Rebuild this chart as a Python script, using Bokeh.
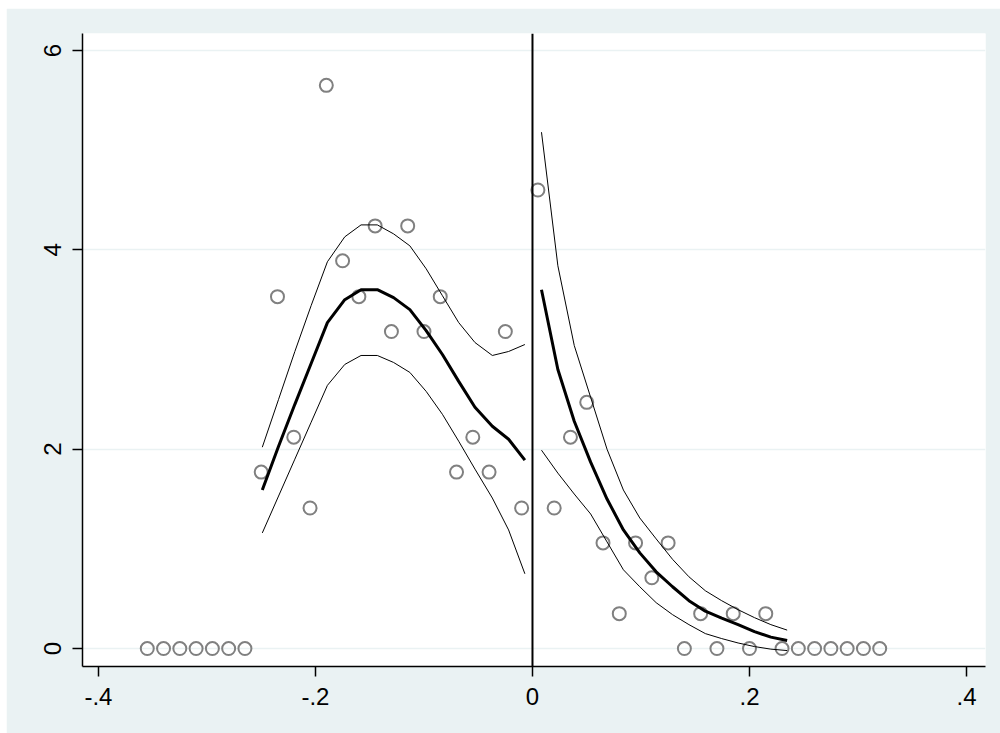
from bokeh.plotting import figure
from bokeh.models import Span, FixedTicker
from bokeh.embed import file_html
from bokeh.resources import INLINE

# ---- data ----
bin_x = [-0.355, -0.34, -0.325, -0.31, -0.295, -0.28, -0.265, -0.25, -0.235, -0.22,
         -0.205, -0.19, -0.175, -0.16, -0.145, -0.13, -0.115, -0.1, -0.085, -0.07,
         -0.055, -0.04, -0.025, -0.01,
         0.005, 0.02, 0.035, 0.05, 0.065, 0.08, 0.095, 0.11, 0.125, 0.14,
         0.155, 0.17, 0.185, 0.2, 0.215, 0.23, 0.245, 0.26, 0.275, 0.29, 0.305, 0.32]
bin_y = [0, 0, 0, 0, 0, 0, 0, 1.77, 3.53, 2.12,
         1.41, 5.65, 3.89, 3.53, 4.24, 3.18, 4.24, 3.18, 3.53, 1.77,
         2.12, 1.77, 3.18, 1.41,
         4.60, 1.41, 2.12, 2.47, 1.06, 0.35, 1.06, 0.71, 1.06, 0.0,
         0.35, 0.0, 0.35, 0.0, 0.35, 0.0, 0.0, 0.0, 0.0, 0.0, 0.0, 0.0]

left_x = [-0.249, -0.234, -0.219, -0.204, -0.189, -0.173, -0.158, -0.143, -0.128,
          -0.113, -0.098, -0.083, -0.068, -0.053, -0.037, -0.022, -0.007]
left_fit = [1.59, 2.03, 2.45, 2.86, 3.27, 3.50, 3.60, 3.60, 3.52,
            3.40, 3.19, 2.95, 2.68, 2.42, 2.23, 2.10, 1.89]
left_hi = [2.02, 2.50, 2.98, 3.44, 3.88, 4.13, 4.25, 4.25, 4.16,
           4.04, 3.81, 3.54, 3.27, 3.07, 2.94, 2.98, 3.05]
left_lo = [1.16, 1.53, 1.90, 2.27, 2.64, 2.85, 2.94, 2.94, 2.87,
           2.77, 2.58, 2.35, 2.08, 1.80, 1.51, 1.19, 0.75]

right_x = [0.0083, 0.0234, 0.0385, 0.0536, 0.0687, 0.0838, 0.0989, 0.1140,
           0.1291, 0.1442, 0.1593, 0.1744, 0.1895, 0.2046, 0.2197, 0.2347]
right_fit = [3.60, 2.80, 2.28, 1.87, 1.50, 1.19, 0.96, 0.77,
             0.62, 0.48, 0.375, 0.305, 0.24, 0.17, 0.115, 0.08]
right_hi = [5.18, 3.84, 3.04, 2.52, 2.00, 1.59, 1.31, 1.10,
            0.895, 0.72, 0.58, 0.48, 0.39, 0.31, 0.24, 0.185]
right_lo = [1.99, 1.76, 1.55, 1.35, 1.07, 0.79, 0.62, 0.46,
            0.34, 0.24, 0.15, 0.10, 0.056, 0.02, -0.006, -0.02]

x_ticks = [-0.4, -0.2, 0, 0.2, 0.4]
x_tick_labels = ["-.4", "-.2", "0", ".2", ".4"]
y_ticks = [0, 2, 4, 6]
y_tick_labels = ["0", "2", "4", "6"]

BG = "#EAF2F3"
FONT = "Liberation Sans"

p = figure(width=994, height=725, output_backend="svg", toolbar_location=None,
           x_range=(-0.4147, 0.4175), y_range=(-0.18, 6.17),
           min_border_left=76, min_border_right=15, min_border_top=25, min_border_bottom=67)
p.margin = (8, 0, 0, 6)
p.background_fill_color = "white"
p.border_fill_color = BG
p.outline_line_color = None

# grid
p.xgrid.grid_line_color = None
p.ygrid.grid_line_color = BG
p.ygrid.grid_line_width = 1.5
p.ygrid.ticker = FixedTicker(ticks=y_ticks)

# axes
for ax in (p.xaxis[0], p.yaxis[0]):
    ax.axis_line_color = "black"
    ax.axis_line_width = 1.5
    ax.major_tick_line_color = "black"
    ax.major_tick_line_width = 1.5
    ax.major_tick_out = 10
    ax.major_tick_in = 0
    ax.minor_tick_line_color = None
    ax.major_label_text_font = FONT
    ax.major_label_text_font_size = "24px"
    ax.major_label_text_color = "black"
    ax.major_label_standoff = 11

p.xaxis[0].ticker = FixedTicker(ticks=x_ticks)
p.xaxis[0].major_label_overrides = dict(zip(x_ticks, x_tick_labels))
p.yaxis[0].ticker = FixedTicker(ticks=y_ticks)
p.yaxis[0].major_label_overrides = dict(zip(y_ticks, y_tick_labels))
p.yaxis[0].major_label_orientation = "parallel"

# cutoff line
p.add_layout(Span(location=0, dimension="height", line_color="black", line_width=2))

# histogram points
p.scatter(bin_x, bin_y, marker="circle", size=13, fill_color=None,
          line_color="#808080", line_width=2)

# density fits and confidence bands
for xs, fit, hi, lo in ((left_x, left_fit, left_hi, left_lo),
                        (right_x, right_fit, right_hi, right_lo)):
    p.line(xs, hi, line_color="black", line_width=1)
    p.line(xs, lo, line_color="black", line_width=1)
    p.line(xs, fit, line_color="black", line_width=3)

open("out.html", "w").write(file_html(p, INLINE))
